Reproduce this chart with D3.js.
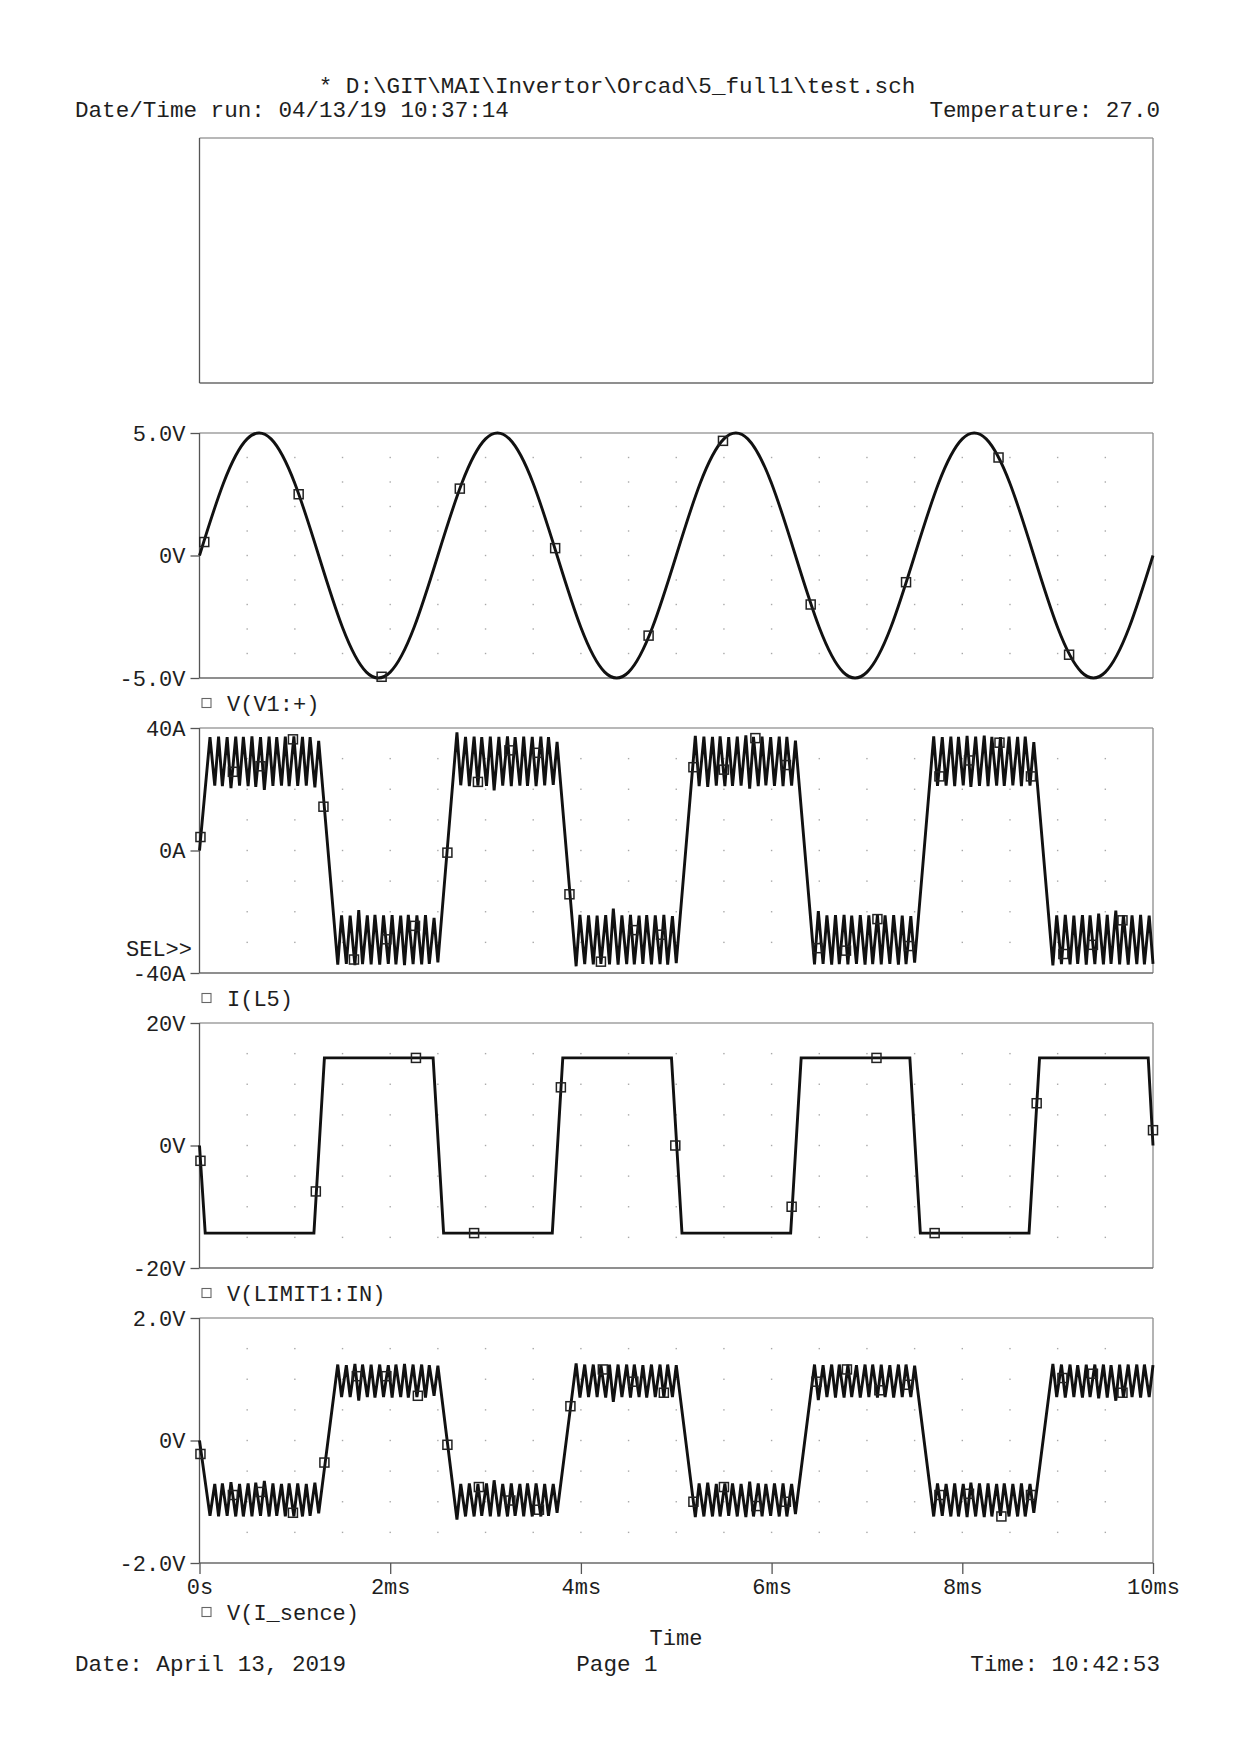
<!DOCTYPE html>
<html><head><meta charset="utf-8">
<script src="https://cdn.jsdelivr.net/npm/d3@7/dist/d3.min.js"></script>
<style>
html,body{margin:0;padding:0;background:#fff;}
svg text{font-family:"Liberation Mono","Courier New",monospace;fill:#1e1e1e;}
</style></head><body>
<svg id="chart" width="1240" height="1754"></svg>
<script>
// ---------------- DATA ----------------
const xTickValues = [0, 2, 4, 6, 8, 10];
const xTickLabels = ["0s", "2ms", "4ms", "6ms", "8ms", "10ms"];

const legendNames = ["V(V1:+)", "I(L5)", "V(LIMIT1:IN)", "V(I_sence)"];
const panelDomains = [[-5, 5], [-40, 40], [-20, 20], [-2, 2]];
const panelTickValues = [[5, 0, -5], [40, 0, -40], [20, 0, -20], [2, 0, -2]];
const panelTickLabels = [["5.0V", "0V", "-5.0V"], ["40A", "0A", "-40A"], ["20V", "0V", "-20V"], ["2.0V", "0V", "-2.0V"]];
const panelGridDivs = [10, 8, 8, 8];

// V(V1:+) : sine samples (ms, V)
const sineTime = [0,0.25,0.5,0.75,1,1.25,1.5,1.75,2,2.25,2.5,2.75,3,3.25,3.5,3.75,4,4.25,4.5,4.75,5,
  5.25,5.5,5.75,6,6.25,6.5,6.75,7,7.25,7.5,7.75,8,8.25,8.5,8.75,9,9.25,9.5,9.75,10];
const sineValue = [0,2.94,4.76,4.76,2.94,0,-2.94,-4.76,-4.76,-2.94,
  0,2.94,4.76,4.76,2.94,0,-2.94,-4.76,-4.76,-2.94,
  0,2.94,4.76,4.76,2.94,0,-2.94,-4.76,-4.76,-2.94,
  0,2.94,4.76,4.76,2.94,0,-2.94,-4.76,-4.76,-2.94,0];
const sineMarkT = [0.05,1.04,1.91,2.73,3.73,4.71,5.49,6.41,7.41,8.38,9.12];
const sineMarkV = [0.55,2.5,-4.95,2.73,0.3,-3.27,4.68,-2.0,-1.09,4.0,-4.05];

// ripple vertex times (ms), shared by I(L5) and V(I_sence)
const rippleTime = [
  0,0.11,0.16,
  0.20,0.24,0.29,0.33,0.38,0.42,0.46,0.51,0.55,0.59,0.64,0.68,0.73,0.77,0.81,0.86,0.90,0.94,0.99,1.03,1.08,1.12,1.16,1.21,1.25,
  1.45,1.49,1.54,1.58,1.63,1.67,1.71,1.76,1.80,1.84,1.89,1.93,1.98,2.02,2.06,2.11,2.15,2.19,2.24,2.28,2.33,2.37,2.41,2.46,2.50,
  2.70,2.74,2.79,2.83,2.88,2.92,2.96,3.01,3.05,3.09,3.14,3.18,3.23,3.27,3.31,3.36,3.40,3.44,3.49,3.53,3.58,3.62,3.66,3.71,3.75,
  3.95,3.99,4.04,4.08,4.13,4.17,4.21,4.26,4.30,4.34,4.39,4.43,4.48,4.52,4.56,4.61,4.65,4.69,4.74,4.78,4.83,4.87,4.91,4.96,5.00,
  5.20,5.24,5.29,5.33,5.38,5.42,5.46,5.51,5.55,5.59,5.64,5.68,5.73,5.77,5.81,5.86,5.90,5.94,5.99,6.03,6.08,6.12,6.16,6.21,6.25,
  6.45,6.49,6.54,6.58,6.63,6.67,6.71,6.76,6.80,6.84,6.89,6.93,6.98,7.02,7.06,7.11,7.15,7.19,7.24,7.28,7.33,7.37,7.41,7.46,7.50,
  7.70,7.74,7.79,7.83,7.88,7.92,7.96,8.01,8.05,8.09,8.14,8.18,8.23,8.27,8.31,8.36,8.40,8.44,8.49,8.53,8.58,8.62,8.66,8.71,8.75,
  8.95,8.99,9.04,9.08,9.13,9.17,9.21,9.26,9.30,9.34,9.39,9.43,9.48,9.52,9.56,9.61,9.65,9.69,9.74,9.78,9.83,9.87,9.91,9.96,10.00];

// I(L5) (A)
const iL5Value = [
  0,37.0,21.2,
  37.2,21.0,37.0,20.4,37.2,21.2,37.1,21.0,37.3,20.8,37.0,19.8,37.2,21.1,37.0,21.2,37.2,21.0,37.3,21.1,37.1,21.2,37.0,20.6,35.8,
  -37.3,-21.2,-37.0,-21.3,-37.4,-19.5,-37.1,-21.2,-37.2,-21.0,-37.3,-21.2,-37.0,-21.1,-37.2,-21.3,-37.4,-21.0,-37.1,-21.2,-37.2,-21.1,-37.0,-22.0,-36.5,
  38.6,21.3,37.1,21.0,37.2,21.2,37.0,21.1,37.2,19.6,37.1,21.2,37.3,21.0,37.0,21.2,37.2,21.1,37.1,21.0,37.2,21.3,37.0,21.4,35.5,
  -37.8,-21.0,-37.1,-21.2,-37.2,-21.3,-37.0,-21.1,-37.2,-19.0,-37.3,-21.2,-37.1,-21.0,-37.2,-21.3,-37.0,-21.1,-37.2,-21.2,-37.1,-21.0,-37.3,-21.4,-36.8,
  37.4,21.0,37.2,20.8,37.1,21.2,37.3,21.0,37.0,21.1,37.2,21.2,37.6,20.2,37.1,21.0,37.2,21.3,37.0,21.1,37.2,21.0,37.1,21.2,35.9,
  -37.2,-19.8,-37.0,-21.2,-37.3,-21.1,-37.1,-21.0,-37.2,-21.3,-37.0,-21.1,-37.3,-21.2,-37.1,-21.0,-37.2,-21.2,-37.0,-21.1,-37.3,-21.3,-37.1,-21.4,-36.6,
  37.3,21.1,37.0,21.2,37.2,21.0,37.1,21.3,37.4,20.8,37.2,21.1,37.5,21.0,37.1,21.2,37.0,21.1,37.2,21.3,37.1,21.0,37.2,21.2,35.4,
  -37.5,-21.2,-37.1,-21.0,-37.2,-21.3,-37.0,-21.1,-37.3,-21.2,-37.1,-20.6,-37.2,-21.0,-37.0,-19.6,-37.2,-21.1,-37.3,-21.2,-37.1,-21.0,-37.2,-21.3,-37.0];
const iL5MarkT = [0.01,0.35,0.64,0.98,1.30,1.62,1.96,2.26,2.60,2.92,3.25,3.55,3.88,4.21,4.55,4.84,5.18,5.50,5.83,6.15,6.48,6.78,7.11,7.44,7.76,8.07,8.39,8.72,9.06,9.37,9.68];
const iL5MarkV = [4.4,25.7,27.5,36.3,14.3,-35.6,-29.0,-24.6,-0.7,22.4,32.7,31.9,-14.3,-36.3,-26.0,-27.5,27.2,26.4,36.7,27.9,-31.9,-32.7,-22.4,-31.2,24.2,29.4,35.2,24.2,-33.8,-30.8,-22.8];

// V(LIMIT1:IN) (V)
const limTime = [0,0.06,1.20,1.31,2.45,2.56,3.70,3.81,4.95,5.06,6.20,6.31,7.45,7.56,8.70,8.81,9.95,10.0];
const limValue = [0,-14.3,-14.3,14.3,14.3,-14.3,-14.3,14.3,14.3,-14.3,-14.3,14.3,14.3,-14.3,-14.3,14.3,14.3,0];
const limMarkT = [0.01,1.22,2.27,2.88,3.79,4.99,6.21,7.10,7.71,8.78,10.0];
const limMarkV = [-2.5,-7.5,14.3,-14.3,9.5,0,-10.0,14.3,-14.3,6.9,2.5];

// V(I_sence) (V)
const senceValue = [
  0,-1.23,-0.71,
  -1.24,-0.70,-1.23,-0.68,-1.24,-0.71,-1.24,-0.70,-1.24,-0.69,-1.23,-0.66,-1.24,-0.70,-1.23,-0.71,-1.24,-0.70,-1.24,-0.70,-1.24,-0.71,-1.23,-0.69,-1.19,
  1.24,0.71,1.23,0.71,1.25,0.65,1.24,0.71,1.24,0.70,1.24,0.71,1.23,0.70,1.24,0.71,1.25,0.70,1.24,0.71,1.24,0.70,1.23,0.73,1.22,
  -1.29,-0.71,-1.24,-0.70,-1.24,-0.71,-1.23,-0.70,-1.24,-0.65,-1.24,-0.71,-1.24,-0.70,-1.23,-0.71,-1.24,-0.70,-1.24,-0.70,-1.24,-0.71,-1.23,-0.71,-1.18,
  1.26,0.70,1.24,0.71,1.24,0.71,1.23,0.70,1.24,0.63,1.24,0.71,1.24,0.70,1.24,0.71,1.23,0.70,1.24,0.71,1.24,0.70,1.24,0.71,1.23,
  -1.25,-0.70,-1.24,-0.69,-1.24,-0.71,-1.24,-0.70,-1.23,-0.70,-1.24,-0.71,-1.25,-0.67,-1.24,-0.70,-1.24,-0.71,-1.23,-0.70,-1.24,-0.70,-1.24,-0.71,-1.20,
  1.24,0.66,1.23,0.71,1.24,0.70,1.24,0.70,1.24,0.71,1.23,0.70,1.24,0.71,1.24,0.70,1.24,0.71,1.23,0.70,1.24,0.71,1.24,0.71,1.22,
  -1.24,-0.70,-1.23,-0.71,-1.24,-0.70,-1.24,-0.71,-1.25,-0.69,-1.24,-0.70,-1.25,-0.70,-1.24,-0.71,-1.23,-0.70,-1.24,-0.71,-1.24,-0.70,-1.24,-0.71,-1.18,
  1.25,0.71,1.24,0.70,1.24,0.71,1.23,0.70,1.24,0.71,1.24,0.69,1.24,0.70,1.23,0.65,1.24,0.70,1.24,0.71,1.24,0.70,1.24,0.71,1.23];
const senceMarkT = [0.01,0.35,0.64,0.98,1.31,1.65,1.96,2.29,2.60,2.93,3.26,3.56,3.89,4.23,4.55,4.87,5.18,5.50,5.84,6.15,6.47,6.79,7.13,7.43,7.76,8.07,8.41,8.72,9.05,9.37,9.68];
const senceMarkV = [-0.22,-0.89,-0.84,-1.18,-0.36,1.05,1.05,0.73,-0.07,-0.76,-0.98,-1.13,0.56,1.16,0.96,0.78,-1.0,-0.76,-1.07,-1.0,0.96,1.16,0.82,0.91,-0.89,-0.87,-1.24,-0.89,1.02,1.09,0.78];

// ---------------- DRAW ----------------
const svg = d3.select("#chart");
const FONT = '"Liberation Mono","Courier New",monospace';
const X0 = 199.5, X1 = 1153;
const panelTop = [138, 433, 728, 1023, 1318];
const PH = 245;
const x = d3.scaleLinear().domain([0, 10]).range([X0, X1]);

function frame(top) {
  const g = svg.append("g");
  g.append("line").attr("x1", X0).attr("x2", X1).attr("y1", top).attr("y2", top)
    .attr("stroke", "#b8b8b8").attr("stroke-width", 2);
  g.append("line").attr("x1", X1).attr("x2", X1).attr("y1", top).attr("y2", top + PH)
    .attr("stroke", "#8c8c8c").attr("stroke-width", 1.3);
  g.append("line").attr("x1", X0).attr("x2", X1).attr("y1", top + PH).attr("y2", top + PH)
    .attr("stroke", "#6a6a6a").attr("stroke-width", 1.3);
  g.append("line").attr("x1", X0).attr("x2", X0).attr("y1", top).attr("y2", top + PH)
    .attr("stroke", "#555").attr("stroke-width", 1.3);
}

// header
svg.append("text").attr("x", 617).attr("y", 93).attr("text-anchor", "middle")
  .attr("font-size", 22.6).text("* D:\\GIT\\MAI\\Invertor\\Orcad\\5_full1\\test.sch");
svg.append("text").attr("x", 75).attr("y", 117).attr("font-size", 22.6)
  .text("Date/Time run: 04/13/19 10:37:14");
svg.append("text").attr("x", 1160).attr("y", 117).attr("text-anchor", "end").attr("font-size", 22.6)
  .text("Temperature: 27.0");

// empty top panel
frame(panelTop[0]);

const series = [
  { t: sineTime, v: sineValue, mt: sineMarkT, mv: sineMarkV, curve: d3.curveNatural },
  { t: rippleTime, v: iL5Value, mt: iL5MarkT, mv: iL5MarkV, curve: d3.curveLinear },
  { t: limTime, v: limValue, mt: limMarkT, mv: limMarkV, curve: d3.curveLinear },
  { t: rippleTime, v: senceValue, mt: senceMarkT, mv: senceMarkV, curve: d3.curveLinear }
];

series.forEach((s, i) => {
  const top = panelTop[i + 1];
  const y = d3.scaleLinear().domain(panelDomains[i]).range([top + PH, top]);

  // grid dots
  const gd = svg.append("g");
  const divs = panelGridDivs[i];
  const step = (panelDomains[i][1] - panelDomains[i][0]) / divs;
  for (let a = 1; a < 20; a++) {
    for (let b = 1; b < divs; b++) {
      gd.append("rect").attr("x", x(a * 0.5) - 0.7).attr("y", y(panelDomains[i][0] + b * step) - 0.7)
        .attr("width", 1.4).attr("height", 1.4).attr("fill", "#a8a8a8");
    }
  }

  frame(top);

  // y axis
  const ya = d3.axisLeft(y).tickValues(panelTickValues[i])
    .tickFormat((d, k) => panelTickLabels[i][k]).tickSize(9).tickPadding(5);
  const gy = svg.append("g").attr("transform", `translate(${X0},0)`).call(ya);
  gy.select(".domain").remove();
  gy.selectAll("line").attr("stroke", "#555").attr("stroke-width", 1.3);
  gy.selectAll("text").attr("font-family", FONT).attr("font-size", 22).attr("fill", "#1e1e1e");

  // trace
  const data = d3.zip(s.t, s.v);
  const line = d3.line().x(d => x(d[0])).y(d => y(d[1])).curve(s.curve);
  svg.append("path").datum(data).attr("d", line).attr("fill", "none")
    .attr("stroke", "#111").attr("stroke-width", 2.9).attr("stroke-linejoin", "miter")
    .attr("stroke-miterlimit", 3);

  // markers
  svg.append("g").selectAll("rect").data(d3.zip(s.mt, s.mv)).join("rect")
    .attr("x", d => x(d[0]) - 4.5).attr("y", d => y(d[1]) - 4.5)
    .attr("width", 9).attr("height", 9).attr("fill", "none")
    .attr("stroke", "#222").attr("stroke-width", 1.5);

  // legend
  const ly = i === 3 ? 1612 : top + PH + 25;
  svg.append("rect").attr("x", 202).attr("y", ly - 4.5).attr("width", 9).attr("height", 9)
    .attr("fill", "none").attr("stroke", "#666").attr("stroke-width", 1.1);
  svg.append("text").attr("x", 227).attr("y", ly).attr("dy", "0.36em").attr("font-size", 22)
    .text(legendNames[i]);
});

// SEL>>
svg.append("text").attr("x", 192).attr("y", 948).attr("dy", "0.36em").attr("text-anchor", "end")
  .attr("font-size", 22).text("SEL>>");

// x axis
const xa = d3.axisBottom(x).tickValues(xTickValues).tickFormat((d, k) => xTickLabels[k])
  .tickSize(11).tickPadding(4);
const gx = svg.append("g").attr("transform", `translate(0,${panelTop[4] + PH})`).call(xa);
gx.select(".domain").remove();
gx.selectAll("line").attr("stroke", "#555").attr("stroke-width", 1.3);
gx.selectAll("text").attr("font-family", FONT).attr("font-size", 22).attr("fill", "#1e1e1e");

// footer
svg.append("text").attr("x", 676).attr("y", 1637).attr("dy", "0.36em").attr("text-anchor", "middle")
  .attr("font-size", 22).text("Time");
svg.append("text").attr("x", 75).attr("y", 1663).attr("dy", "0.36em").attr("font-size", 22.6)
  .text("Date: April 13, 2019");
svg.append("text").attr("x", 617).attr("y", 1663).attr("dy", "0.36em").attr("text-anchor", "middle")
  .attr("font-size", 22.6).text("Page 1");
svg.append("text").attr("x", 1160).attr("y", 1663).attr("dy", "0.36em").attr("text-anchor", "end")
  .attr("font-size", 22.6).text("Time: 10:42:53");
</script>
</body></html>
